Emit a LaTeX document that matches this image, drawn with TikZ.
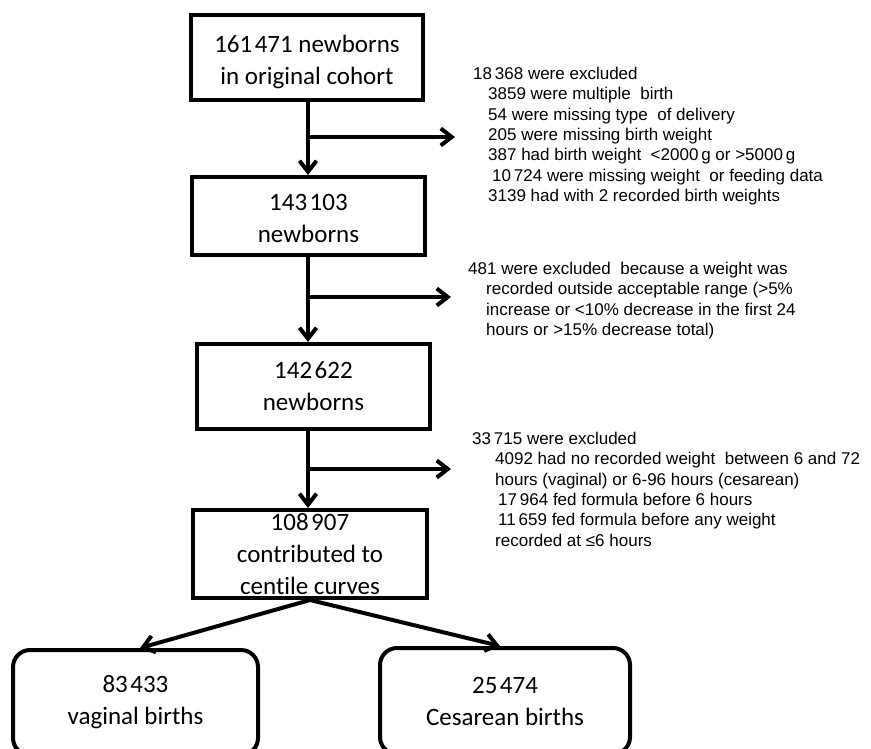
\documentclass[tikz,border=0pt]{standalone}
\usepackage{fontspec}
\setmainfont{Liberation Sans}
\newfontfamily\carlito[Ligatures=NoCommon]{Carlito}
\usetikzlibrary{arrows.meta}
\newcommand{\gapb}{\hspace{2.5pt}}
\begin{document}
\begin{tikzpicture}[x=1pt,y=-1pt,
  box/.style={draw,line width=4pt,rectangle,align=center,
    font=\carlito\fontsize{25}{32}\selectfont,inner sep=0pt},
  rbox/.style={box,rounded corners=17pt},
  note/.style={anchor=north west,align=left,inner sep=0pt,
    font=\fontsize{17}{20.3}\selectfont},
  arr/.style={line width=4pt,-{Straight Barb[length=11pt,width=17pt]}}]
\clip (0,0) rectangle (871,748);
\fill[white] (0,0) rectangle (871,748);
\coordinate (col) at (308,0);
% boxes
\node[box,minimum width=232pt,minimum height=85pt] (b1) at (307,57.5)
  {\rule{0pt}{26pt}161\gapb471 newborns\\in original cohort};
\node[box,minimum width=233pt,minimum height=78pt] (b2) at (308.5,216)
  {\rule{0pt}{21pt}143\gapb103\\newborns};
\node[box,minimum width=233pt,minimum height=85pt] (b3) at (313.5,386.5)
  {142\gapb622\\newborns};
\node[box,minimum width=234pt,minimum height=88pt] (b4) at (310,554)
  {108\gapb907\\contributed to\\centile curves};
\node[rbox,minimum width=245pt,minimum height=105pt] (v) at (135.5,702.5)
  {83\gapb433\\vaginal births};
\node[rbox,minimum width=250pt,minimum height=106pt] (c) at (505,701)
  {25\gapb474\\Cesarean births};
% notes
\node[note] (n1) at (473,67) {18\,368 were excluded\\
\hspace*{15pt}3859 were multiple\ \ birth\\
\hspace*{15pt}54 were missing type\ \ of delivery\\
\hspace*{15pt}205 were missing birth weight\\
\hspace*{15pt}387 had birth weight\ \ <2000\,g or >5000\,g\\
\hspace*{19pt}10\,724 were missing weight\ \ or feeding data\\
\hspace*{15pt}3139 had with 2 recorded birth weights};
\node[note] (n2) at (468,262) {481 were excluded\ \ because a weight was\\
\hspace*{18pt}recorded outside acceptable range (>5\%\\
\hspace*{18pt}increase or <10\% decrease in the first 24\\
\hspace*{18pt}hours or >15\% decrease total)};
\node[note] (n3) at (472,432) {33\,715 were excluded\\
\hspace*{23pt}4092 had no recorded weight\ \ between 6 and 72\\
\hspace*{23pt}hours (vaginal) or 6-96 hours (cesarean)\\
\hspace*{26pt}17\,964 fed formula before 6 hours\\
\hspace*{26pt}11\,659 fed formula before any weight\\
\hspace*{23pt}recorded at ≤6 hours};
% branch end points
\coordinate (e1) at (455,137);
\coordinate (e2) at (451,297);
\coordinate (e3) at (451,469);
% connectors
\draw[arr] (b1.south -| col) -- (b2.north -| col);
\draw[arr] (e1 -| col) -- (e1);
\draw[arr] (b2.south -| col) -- (b3.north -| col);
\draw[arr] (e2 -| col) -- (e2);
\draw[arr] (b3.south -| col) -- (b4.north -| col);
\draw[arr] (e3 -| col) -- (e3);
\draw[arr] (b4.south) -- ([xshift=4.5pt]v.north);
\draw[arr] (b4.south) -- ([xshift=-5pt]c.north);
\end{tikzpicture}
\end{document}
